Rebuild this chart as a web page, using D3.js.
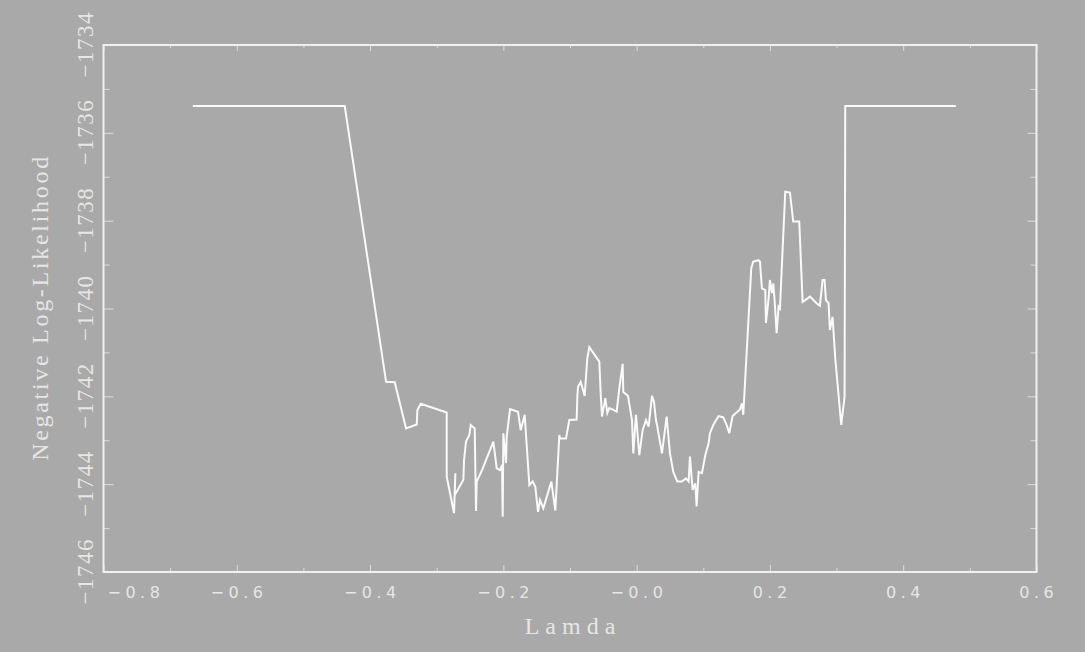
<!DOCTYPE html>
<html>
<head>
<meta charset="utf-8">
<script src="https://cdn.jsdelivr.net/npm/d3@7"></script>
<style>
  html, body { margin: 0; padding: 0; background: #a9a9a9; }
  svg { display: block; }
</style>
</head>
<body>
<div class="chart"></div>
<script>
/* Negative log-likelihood profile against lamda. */

// lamda values
var lamda = [
  -0.666, -0.438, -0.376, -0.363, -0.346, -0.330, -0.329, -0.324, -0.285, -0.285,
  -0.274, -0.272, -0.273, -0.260, -0.259, -0.256, -0.251, -0.249, -0.243, -0.241,
  -0.240, -0.232, -0.215, -0.210, -0.205, -0.202, -0.201, -0.200, -0.196, -0.195,
  -0.190, -0.178, -0.174, -0.168, -0.161, -0.156, -0.152, -0.148, -0.145, -0.140,
  -0.128, -0.122, -0.116, -0.115, -0.106, -0.101, -0.090, -0.089, -0.088, -0.084,
  -0.078, -0.074, -0.071, -0.056, -0.054, -0.052, -0.047, -0.044, -0.041, -0.035,
  -0.030, -0.026, -0.021, -0.020, -0.013, -0.007, -0.005, -0.001, 0.004, 0.009,
  0.014, 0.018, 0.023, 0.026, 0.029, 0.031, 0.038, 0.045, 0.050, 0.055,
  0.061, 0.068, 0.074, 0.078, 0.080, 0.084, 0.088, 0.090, 0.093, 0.098,
  0.103, 0.108, 0.110, 0.115, 0.123, 0.130, 0.135, 0.139, 0.144, 0.155,
  0.158, 0.160, 0.172, 0.175, 0.183, 0.185, 0.188, 0.193, 0.194, 0.198,
  0.200, 0.203, 0.205, 0.207, 0.210, 0.213, 0.215, 0.223, 0.230, 0.235,
  0.244, 0.249, 0.253, 0.260, 0.270, 0.275, 0.279, 0.282, 0.284, 0.288,
  0.290, 0.294, 0.298, 0.307, 0.312, 0.313, 0.479
];

var negLogLik = [
  -1735.39, -1735.39, -1741.67, -1741.68, -1742.73, -1742.64, -1742.31, -1742.17, -1742.37, -1743.83,
  -1744.66, -1743.75, -1744.25, -1743.90, -1743.45, -1743.03, -1742.88, -1742.65, -1742.73, -1744.61,
  -1743.94, -1743.68, -1743.03, -1743.64, -1743.68, -1743.56, -1744.74, -1742.84, -1743.52, -1742.92,
  -1742.29, -1742.35, -1742.77, -1742.42, -1744.02, -1743.94, -1744.06, -1744.63, -1744.36, -1744.55,
  -1743.94, -1744.60, -1742.88, -1742.96, -1742.96, -1742.54, -1742.53, -1742.01, -1741.78, -1741.67,
  -1741.99, -1741.13, -1740.88, -1741.21, -1741.93, -1742.46, -1742.04, -1742.38, -1742.27, -1742.31,
  -1742.35, -1741.82, -1741.26, -1741.90, -1741.99, -1742.54, -1743.30, -1742.42, -1743.34, -1742.77,
  -1742.54, -1742.69, -1741.99, -1742.12, -1742.54, -1742.69, -1743.30, -1742.46, -1743.30, -1743.72,
  -1743.94, -1743.94, -1743.87, -1743.94, -1743.37, -1744.13, -1743.98, -1744.51, -1743.72, -1743.75,
  -1743.34, -1743.07, -1742.84, -1742.65, -1742.45, -1742.48, -1742.65, -1742.84, -1742.45, -1742.30,
  -1742.16, -1742.42, -1739.08, -1738.93, -1738.90, -1738.93, -1739.54, -1739.58, -1740.33, -1739.77,
  -1739.35, -1739.65, -1739.43, -1739.81, -1740.56, -1739.96, -1740.00, -1737.34, -1737.36, -1738.02,
  -1738.02, -1739.85, -1739.81, -1739.73, -1739.88, -1739.94, -1739.35, -1739.35, -1739.81, -1739.88,
  -1740.49, -1740.19, -1741.13, -1742.65, -1742.01, -1735.39, -1735.39
];

var xMajor = [-0.8, -0.6, -0.4, -0.2, 0.0, 0.2, 0.4, 0.6];
var xMinor = [-0.7, -0.5, -0.3, -0.1, 0.1, 0.3, 0.5];
var xTickLabels = ["\u22120.8", "\u22120.6", "\u22120.4", "\u22120.2", "\u22120.0", "0.2", "0.4", "0.6"];

var yMajor = [-1746, -1744, -1742, -1740, -1738, -1736, -1734];
var yMinor = [-1745, -1743, -1741, -1739, -1737, -1735];
var yTickLabels = ["\u22121746", "\u22121744", "\u22121742", "\u22121740", "\u22121738", "\u22121736", "\u22121734"];

var xTitle = "Lamda";
var yTitle = "Negative Log-Likelihood";

drawChart();

function drawChart() {

  var width = 1085,
      height = 652,
      margin = {top: 45, right: 48.5, bottom: 80, left: 103.5};

  var textColor = "#e6e6e6",
      frameColor = "#f0f0f0";

  var svg = d3.select(".chart")
      .append("svg")
      .attr("width", width)
      .attr("height", height);

  svg.append("rect")
      .attr("width", width)
      .attr("height", height)
      .style("fill", "#a9a9a9");

  var x = d3.scaleLinear()
      .domain([-0.8, 0.6])
      .range([margin.left, width - margin.right]);

  var y = d3.scaleLinear()
      .domain([-1746, -1734])
      .range([height - margin.bottom, margin.top]);

  var x0 = x.range()[0], x1 = x.range()[1];
  var y0 = y.range()[0], y1 = y.range()[1];

  // tick marks on all four sides, pointing inward
  function ticks(axis, vals, size, transform) {
    var g = svg.append("g")
        .attr("transform", transform)
        .call(axis.tickValues(vals).tickSizeInner(size).tickSizeOuter(0).tickFormat(""));
    g.select(".domain").remove();
    g.selectAll("line").style("stroke", "#dcdcdc").style("stroke-width", 1);
  }

  ticks(d3.axisBottom(x), xMajor, -7, "translate(0," + y0 + ")");
  ticks(d3.axisBottom(x), xMinor, -4, "translate(0," + y0 + ")");
  ticks(d3.axisTop(x), xMajor, -6, "translate(0," + y1 + ")");
  ticks(d3.axisTop(x), xMinor, -3, "translate(0," + y1 + ")");
  ticks(d3.axisLeft(y), yMajor, -10, "translate(" + x0 + ",0)");
  ticks(d3.axisLeft(y), yMinor, -6, "translate(" + x0 + ",0)");
  ticks(d3.axisRight(y), yMajor, -9, "translate(" + x1 + ",0)");
  ticks(d3.axisRight(y), yMinor, -6, "translate(" + x1 + ",0)");

  // frame
  svg.append("rect")
      .attr("x", x0)
      .attr("y", y1)
      .attr("width", x1 - x0)
      .attr("height", y0 - y1)
      .style("fill", "none")
      .style("stroke", frameColor)
      .style("stroke-width", 2);

  // x tick labels (the first one is pushed right, clear of the y labels)
  var xls = 4.5;
  svg.append("g")
      .selectAll("text")
      .data(xMajor)
      .enter()
      .append("text")
      .attr("x", function (d, i) { return i === 0 ? x0 + 4 : x(d) + xls / 2; })
      .attr("y", y0 + 26)
      .attr("text-anchor", function (d, i) { return i === 0 ? "start" : "middle"; })
      .style("font-family", "'DejaVu Sans', sans-serif")
      .style("font-size", "16px")
      .style("letter-spacing", xls + "px")
      .style("fill", textColor)
      .text(function (d, i) { return xTickLabels[i]; });

  // y tick labels, rotated
  var yls = 1.5;
  svg.append("g")
      .selectAll("text")
      .data(yMajor)
      .enter()
      .append("text")
      .attr("transform", function (d) { return "translate(93," + (y(d) - yls / 2) + ") rotate(-90)"; })
      .attr("text-anchor", "middle")
      .style("font-family", "'Liberation Serif', serif")
      .style("font-size", "23px")
      .style("letter-spacing", yls + "px")
      .style("fill", textColor)
      .text(function (d, i) { return yTickLabels[i]; });

  // axis titles
  svg.append("text")
      .attr("x", (x0 + x1) / 2 + 3)
      .attr("y", 634)
      .attr("text-anchor", "middle")
      .style("font-family", "'Liberation Serif', serif")
      .style("font-size", "24px")
      .style("letter-spacing", "6px")
      .style("fill", textColor)
      .text(xTitle);

  svg.append("text")
      .attr("transform", "translate(48," + ((y0 + y1) / 2 - 1) + ") rotate(-90)")
      .attr("text-anchor", "middle")
      .style("font-family", "'Liberation Serif', serif")
      .style("font-size", "24px")
      .style("letter-spacing", "2.7px")
      .style("fill", textColor)
      .text(yTitle);

  // the curve
  var pts = lamda.map(function (d, i) { return [d, negLogLik[i]]; });

  var line = d3.line()
      .x(function (d) { return x(d[0]); })
      .y(function (d) { return y(d[1]); });

  svg.append("path")
      .datum(pts)
      .attr("d", line)
      .style("fill", "none")
      .style("stroke", "#fafafa")
      .style("stroke-width", 2)
      .style("stroke-linejoin", "miter");

}
</script>
</body>
</html>
